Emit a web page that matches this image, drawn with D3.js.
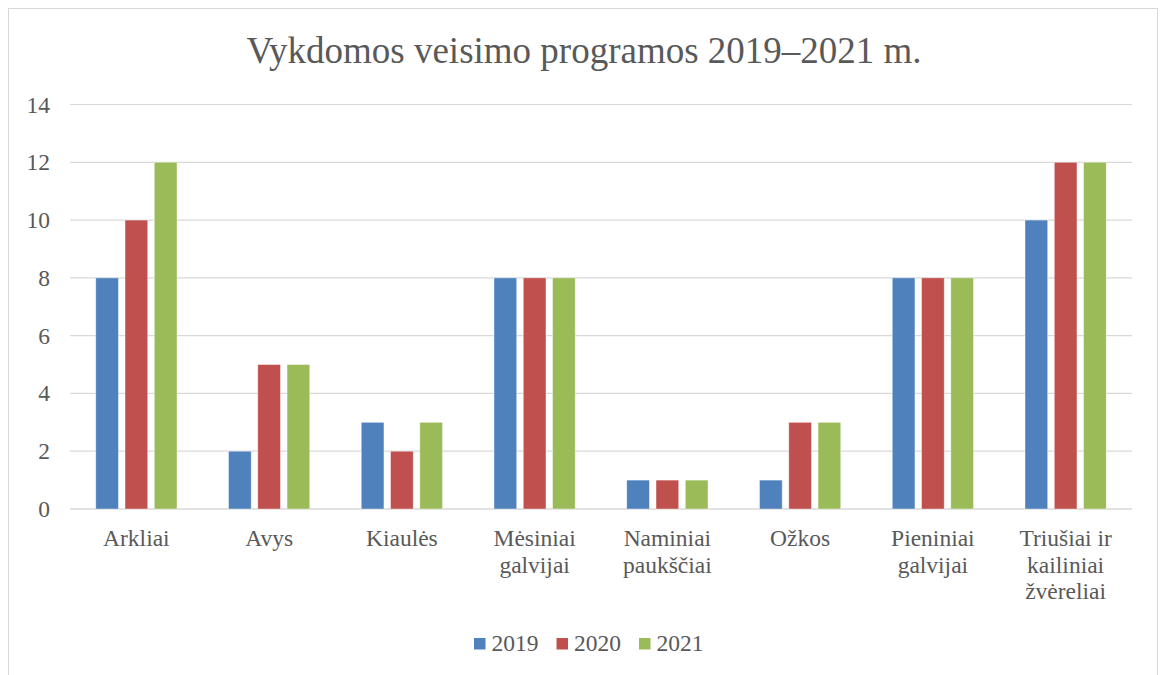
<!DOCTYPE html>
<html>
<head>
<meta charset="utf-8">
<script src="https://cdn.jsdelivr.net/npm/d3@7"></script>
<style>
	body { margin: 0; background: #fff; }
	text { font-family: "Liberation Serif", "Times New Roman", serif; fill: #595959; }
</style>
</head>
<body>
<svg id="chart"></svg>
<script>
const WIDTH = 1160;
const HEIGHT = 675;

const categories = [
	["Arkliai"],
	["Avys"],
	["Kiaulės"],
	["Mėsiniai", "galvijai"],
	["Naminiai", "paukščiai"],
	["Ožkos"],
	["Pieniniai", "galvijai"],
	["Triušiai ir", "kailiniai", "žvėreliai"],
];
const years = ["2019", "2020", "2021"];
const values2019 = [8, 2, 3, 8, 1, 1, 8, 10];
const values2020 = [10, 5, 2, 8, 1, 3, 8, 12];
const values2021 = [12, 5, 3, 8, 1, 3, 8, 12];
const yTicks = [0, 2, 4, 6, 8, 10, 12, 14];
const colors = ["#4F81BD", "#C0504D", "#9BBB59"];

const series = [values2019, values2020, values2021];
const names = categories.map(c => c.join(" "));

const PLOT = { left: 70, right: 1132, top: 104.5, bottom: 509 };

const svg = d3.select("#chart").attr("width", WIDTH).attr("height", HEIGHT);

// chart frame (bottom edge is outside the picture)
svg.append("rect")
	.attr("x", 8.5)
	.attr("y", 8.5)
	.attr("width", 1149)
	.attr("height", 700)
	.attr("fill", "none")
	.attr("stroke", "#d9d9d9")
	.attr("stroke-width", 1);

const x0 = d3.scaleBand(names, [PLOT.left, PLOT.right]);
const x1 = d3.scaleBand(years, [0, x0.bandwidth()]).paddingInner(0.225).paddingOuter(0.88);
const y = d3.scaleLinear([0, 14], [PLOT.bottom, PLOT.top]);
const color = d3.scaleOrdinal(years, colors);

svg.append("text")
	.attr("x", 584)
	.attr("y", 63)
	.attr("text-anchor", "middle")
	.style("font-size", "37px")
	.text("Vykdomos veisimo programos 2019–2021 m.");

// gridlines
svg.append("g")
	.selectAll("line")
	.data(yTicks)
	.join("line")
	.attr("x1", PLOT.left)
	.attr("x2", PLOT.right)
	.attr("y1", d => y(d))
	.attr("y2", d => y(d))
	.attr("stroke", "#d9d9d9")
	.attr("stroke-width", d => (d === 0 ? 1.5 : 1.2));

// y axis labels
const yAxis = svg.append("g")
	.attr("transform", `translate(${PLOT.left},0)`)
	.call(d3.axisLeft(y).tickValues(yTicks).tickSize(0).tickPadding(20));
yAxis.select(".domain").remove();
yAxis.selectAll("text")
	.attr("fill", "#595959")
	.style("font-size", "23.5px")
	.style("font-family", "'Liberation Serif', serif");

// bars
const groups = svg.append("g")
	.selectAll("g")
	.data(names.map((n, i) => ({ name: n, i })))
	.join("g")
	.attr("transform", d => `translate(${x0(d.name)},0)`);

groups.selectAll("rect")
	.data(d => years.map((yr, k) => ({ year: yr, value: series[k][d.i] })))
	.join("rect")
	.attr("x", d => x1(d.year))
	.attr("width", x1.bandwidth())
	.attr("y", d => y(d.value))
	.attr("height", d => y(0) - y(d.value))
	.attr("fill", d => color(d.year))
	.attr("stroke", "#fff")
	.attr("stroke-opacity", 0.5)
	.attr("stroke-width", 0.8);

// category labels
svg.append("g")
	.selectAll("text")
	.data(categories)
	.join("text")
	.attr("x", (d, i) => x0(names[i]) + x0.bandwidth() / 2)
	.attr("y", 546)
	.attr("text-anchor", "middle")
	.style("font-size", "23.5px")
	.selectAll("tspan")
	.data(d => d)
	.join("tspan")
	.attr("x", function () { return this.parentNode.getAttribute("x"); })
	.attr("dy", (d, i) => (i === 0 ? 0 : 26.5))
	.text(d => d);

// legend
const legend = svg.append("g")
	.selectAll("g")
	.data(years)
	.join("g")
	.attr("transform", (d, i) => `translate(${474 + i * 82.5},638)`);

legend.append("rect")
	.attr("width", 11.5)
	.attr("height", 11.5)
	.attr("fill", d => color(d));

legend.append("text")
	.attr("x", 17.5)
	.attr("y", 13)
	.style("font-size", "23.5px")
	.text(d => d);
</script>
</body>
</html>
